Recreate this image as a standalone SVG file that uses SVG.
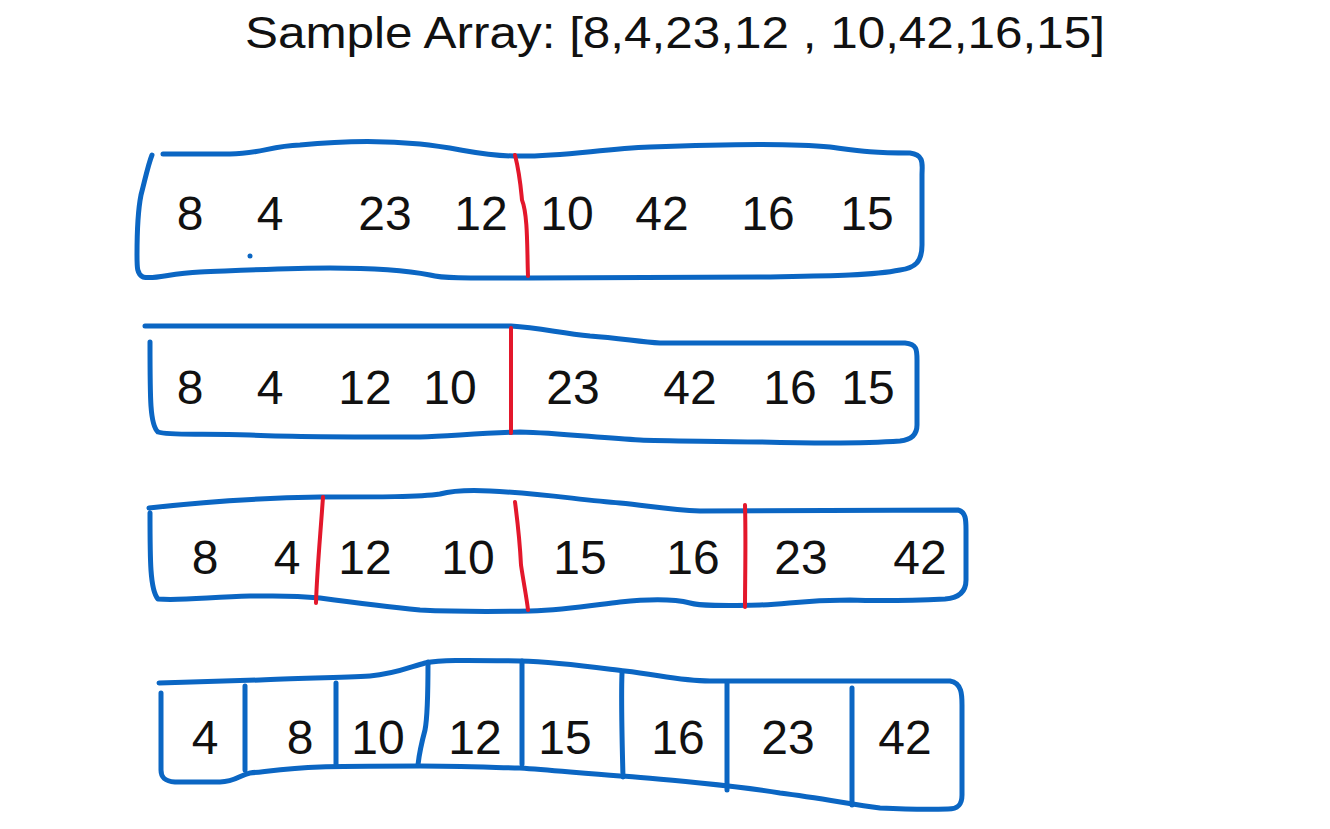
<svg xmlns="http://www.w3.org/2000/svg" width="1330" height="829" viewBox="0 0 1330 829">
<style>
.b{fill:none;stroke:#0b66c3;stroke-width:5;stroke-linecap:round;stroke-linejoin:round}
.r{fill:none;stroke:#e3172b;stroke-width:4;stroke-linecap:round;stroke-linejoin:round}
.t{font-family:"Liberation Sans",Arial,sans-serif;font-size:48px;fill:#111}
.h{font-family:"Liberation Sans",Arial,sans-serif;font-size:44px;fill:#111}
</style>
<rect width="1330" height="829" fill="#fff"/>
<text class="h" x="245" y="48" textLength="860" lengthAdjust="spacingAndGlyphs">Sample Array: [8,4,23,12 , 10,42,16,15]</text>

<g id="row1">
<path class="b" d="M163,154 L230,154 C260,154 270,146 300,145 C340,141 380,140 420,144 C460,148 480,156 515,156 C560,157 600,149 650,147 C700,145 780,142 830,147 C860,151 870,153 910,153 C925,155 922,165 922,175 L922,245 C922,262 915,268 900,270 C870,276 820,276 760,277 L530,278 C480,278 445,279 430,275 C400,269 360,268 330,268 C290,268 250,270 200,272 C170,273 155,280 143,277 C137,274 137,268 137,255 C137,230 138,210 141,195 C145,180 148,165 152,155"/>
<circle cx="250" cy="256" r="2.5" fill="#0b66c3"/>
<path class="r" d="M515,155 C520,175 521,190 522,200 C528,215 527,250 528,276"/>
<text class="t" x="190" y="230" text-anchor="middle">8</text>
<text class="t" x="270" y="230" text-anchor="middle">4</text>
<text class="t" x="385" y="230" text-anchor="middle">23</text>
<text class="t" x="481" y="230" text-anchor="middle">12</text>
<text class="t" x="567" y="230" text-anchor="middle">10</text>
<text class="t" x="662" y="230" text-anchor="middle">42</text>
<text class="t" x="768" y="230" text-anchor="middle">16</text>
<text class="t" x="867" y="230" text-anchor="middle">15</text>
</g>

<g id="row2">
<path class="b" d="M145,326 L511,326 C540,328 560,333 590,336 C620,338 640,342 660,343 L905,343 C917,344 917,350 917,360 L917,425 C917,436 910,440 900,441 C860,444 800,443 760,442 C700,441 660,441 640,440 C600,438 560,433 520,432 C480,433 450,436 420,437 C360,437 300,437 250,435 C200,433 170,436 158,432 C150,425 150,400 150,342"/>
<path class="r" d="M511,328 L511,433"/>
<text class="t" x="190" y="404" text-anchor="middle">8</text>
<text class="t" x="270" y="404" text-anchor="middle">4</text>
<text class="t" x="365" y="404" text-anchor="middle">12</text>
<text class="t" x="450" y="404" text-anchor="middle">10</text>
<text class="t" x="573" y="404" text-anchor="middle">23</text>
<text class="t" x="690" y="404" text-anchor="middle">42</text>
<text class="t" x="790" y="404" text-anchor="middle">16</text>
<text class="t" x="868" y="404" text-anchor="middle">15</text>
</g>

<g id="row3">
<path class="b" d="M149,508 C200,502 260,498 320,497 C380,497 420,497 440,494 C455,490 470,490 490,491 C540,493 580,500 620,503 C650,506 670,510 700,511 L958,510 C966,512 966,520 966,530 L966,580 C966,592 958,598 945,599 C900,601 880,601 850,600 C800,600 790,604 760,605 C720,606 700,606 690,603 C670,598 640,600 620,602 C600,604 570,610 530,611 C480,612 440,611 420,610 C380,606 350,602 320,598 C290,595 280,596 250,596 C210,597 180,601 158,599 C150,590 150,560 150,513"/>
<path class="r" d="M323,497 C320,540 317,570 316,603"/>
<path class="r" d="M515,502 C518,525 520,545 521,565 C524,585 527,600 528,610"/>
<path class="r" d="M745,505 C746,540 745,580 745,607"/>
<text class="t" x="205" y="574" text-anchor="middle">8</text>
<text class="t" x="287" y="574" text-anchor="middle">4</text>
<text class="t" x="365" y="574" text-anchor="middle">12</text>
<text class="t" x="468" y="574" text-anchor="middle">10</text>
<text class="t" x="580" y="574" text-anchor="middle">15</text>
<text class="t" x="693" y="574" text-anchor="middle">16</text>
<text class="t" x="801" y="574" text-anchor="middle">23</text>
<text class="t" x="920" y="574" text-anchor="middle">42</text>
</g>

<g id="row4">
<path class="b" d="M159,683 C200,682 230,681 260,680 C300,678 340,678 370,676 C395,674 410,667 425,663 C440,660 460,660 520,661 C560,662 600,668 625,671 C660,675 680,681 710,681 L950,681 C962,683 962,695 962,705 L962,795 C962,805 958,809 948,809 C920,810 900,809 880,808 C850,804 820,798 780,793 C750,788 730,786 700,783 C670,780 640,777 620,776 C580,773 550,770 520,768 C480,767 450,766 420,766 C380,766 340,766 320,767 C290,768 270,771 250,773 C240,775 235,782 220,782 L175,782 C163,781 161,776 161,770 L161,693"/>
<path class="b" d="M245,686 L245,770"/>
<path class="b" d="M336,683 L336,764"/>
<path class="b" d="M428,662 C428,690 428,715 425,730 C421,745 419,755 418,765"/>
<path class="b" d="M522,661 L522,764"/>
<path class="b" d="M622,673 C621,700 622,740 623,777"/>
<path class="b" d="M727,683 L727,790"/>
<path class="b" d="M852,688 L852,805"/>
<text class="t" x="205" y="754" text-anchor="middle">4</text>
<text class="t" x="300" y="754" text-anchor="middle">8</text>
<text class="t" x="378" y="754" text-anchor="middle">10</text>
<text class="t" x="475" y="754" text-anchor="middle">12</text>
<text class="t" x="565" y="754" text-anchor="middle">15</text>
<text class="t" x="678" y="754" text-anchor="middle">16</text>
<text class="t" x="788" y="754" text-anchor="middle">23</text>
<text class="t" x="905" y="754" text-anchor="middle">42</text>
</g>
</svg>
